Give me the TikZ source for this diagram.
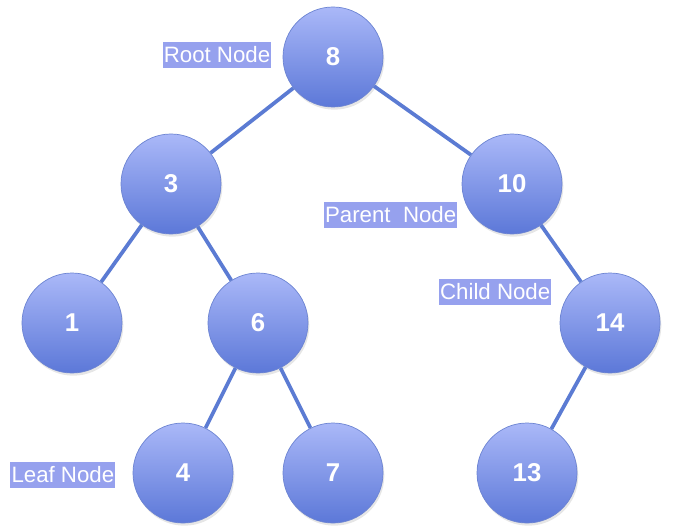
\documentclass[tikz,border=0pt]{standalone}
\usepackage{fontspec}
\setmainfont{Liberation Sans}
\usetikzlibrary{shadows}
\definecolor{nodetop}{HTML}{AAB8F8}
\definecolor{nodebottom}{HTML}{5C78D8}
\definecolor{nodeline}{HTML}{6C84D2}
\definecolor{edgeblue}{HTML}{5B7BD3}
\definecolor{tagblue}{HTML}{96A1EE}
\tikzset{
	treenode/.style={circle,draw=nodeline,line width=0.6pt,minimum size=3cm,inner sep=0pt,
		top color=nodetop,bottom color=nodebottom,text=white,
		font=\fontsize{22}{24}\selectfont\bfseries,
		drop shadow={opacity=0.2,shadow xshift=0.04cm,shadow yshift=-0.08cm}},
	tag/.style={fill=tagblue,text=white,inner xsep=1pt,inner ysep=0pt,minimum height=0.78cm,
		font=\fontsize{19}{22}\selectfont,anchor=east}
}
\begin{document}
\begin{tikzpicture}[x=0.03cm,y=0.03cm,
				edge from parent/.style={draw=edgeblue,line width=3.2pt},
				level 1/.style={level distance=3.81cm,sibling distance=10.23cm},
				level 2/.style={level distance=4.17cm,sibling distance=5.58cm},
				level 3/.style={level distance=4.5cm,sibling distance=4.5cm}]
\useasboundingbox (0,0) rectangle (687,531);
\node[treenode] (n8) at (333,474) {8}
child[xshift=0.255cm] { node[treenode] (n3) {3}
	child[xshift=-0.18cm] { node[treenode] (n1) {1} }
	child[xshift=-0.18cm] { node[treenode] (n6) {6}
		child { node[treenode] (n4) {4} }
		child { node[treenode] (n7) {7} } }
}
child[xshift=0.255cm] { node[treenode] (n10) {10}
	child[missing]
	child[xshift=0.15cm] { node[treenode] (n14) {14}
		child[xshift=-0.24cm] { node[treenode] (n13) {13} }
		child[missing] }
};
% labels beside the nodes
\node[tag] (root) at ([shift={(-0.33cm,0.06cm)}]n8.west) {Root Node};
\node[tag] (parent) at ([shift={(-0.12cm,-0.93cm)}]n10.west) {Parent\ \ Node};
\node[tag] (child) at ([shift={(-0.24cm,0.93cm)}]n14.west) {Child Node};
\node[tag] (leaf) at ([shift={(-0.51cm,-0.06cm)}]n4.west) {Leaf Node};
\end{tikzpicture}
\end{document}
